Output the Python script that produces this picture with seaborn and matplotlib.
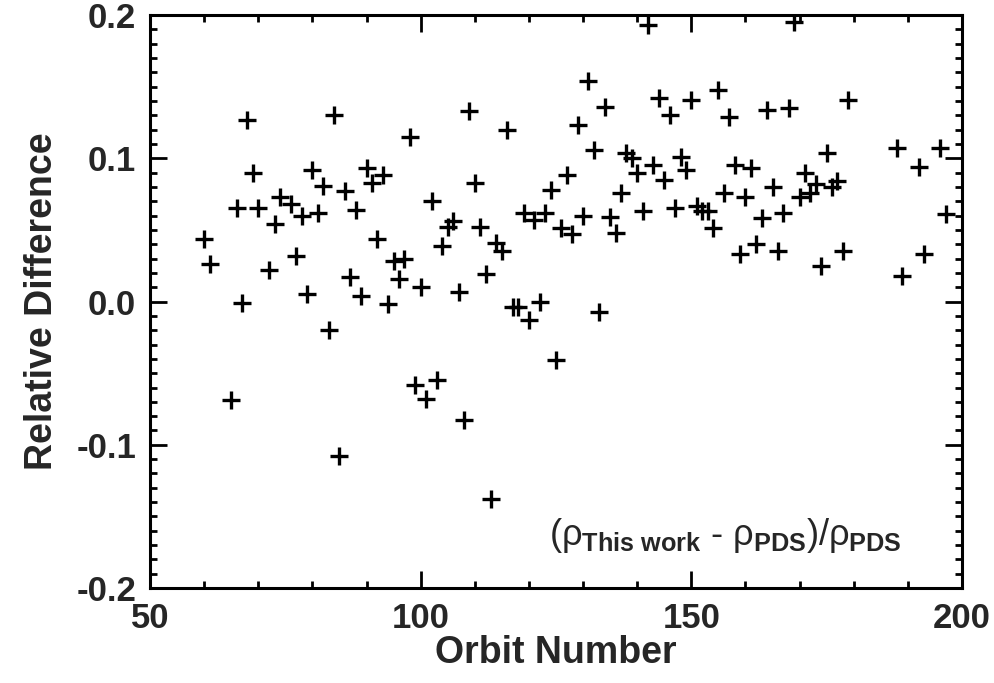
import numpy as np
import pandas as pd
import matplotlib
matplotlib.use('Agg')
import matplotlib.pyplot as plt
from matplotlib.ticker import MultipleLocator, FormatStrFormatter
import seaborn as sns

# orbit numbers and relative density difference
orbit = [60, 61, 65, 66, 67, 68, 69, 70, 72, 73, 74, 76, 77, 78, 79, 80,
         81, 82, 83, 84, 85, 86, 87, 88, 89, 90, 91, 92, 93, 94, 95, 96,
         97, 98, 99, 100, 101, 102, 103, 104, 105, 106, 107, 108, 109, 110,
         111, 112, 113, 114, 115, 116, 117, 118, 119, 120, 121, 122, 123,
         124, 125, 126, 127, 128, 129, 130, 131, 132, 133, 134, 135, 136,
         137, 138, 139, 140, 141, 142, 143, 144, 145, 146, 147, 148, 149,
         150, 151, 152, 153, 154, 155, 156, 157, 158, 159, 160, 161, 162,
         163, 164, 165, 166, 167, 168, 169, 170, 171, 172, 173, 174, 175,
         176, 177, 178, 179, 188, 189, 192, 193, 196, 197]
rel_diff = [0.044, 0.026, -0.069, 0.065, -0.001, 0.127, 0.090, 0.065, 0.022,
            0.054, 0.073, 0.068, 0.032, 0.060, 0.005, 0.092, 0.062, 0.081,
            -0.020, 0.130, -0.108, 0.077, 0.017, 0.064, 0.004, 0.093, 0.083,
            0.044, 0.088, -0.002, 0.028, 0.016, 0.030, 0.115, -0.058, 0.010,
            -0.068, 0.070, -0.055, 0.039, 0.052, 0.056, 0.007, -0.083, 0.133,
            0.083, 0.052, 0.019, -0.138, 0.041, 0.035, 0.120, -0.004, -0.004,
            0.062, -0.013, 0.057, 0.000, 0.062, 0.078, -0.041, 0.051, 0.088,
            0.047, 0.123, 0.060, 0.154, 0.106, -0.007, 0.136, 0.059, 0.048,
            0.076, 0.104, 0.100, 0.090, 0.063, 0.193, 0.095, 0.142, 0.085,
            0.130, 0.065, 0.101, 0.092, 0.141, 0.067, 0.063, 0.063, 0.051,
            0.148, 0.076, 0.129, 0.095, 0.033, 0.073, 0.093, 0.040, 0.058,
            0.134, 0.080, 0.035, 0.062, 0.135, 0.195, 0.073, 0.090, 0.076,
            0.082, 0.025, 0.104, 0.080, 0.084, 0.035, 0.141, 0.107, 0.018,
            0.094, 0.033, 0.107, 0.061]

df = pd.DataFrame({'orbit': orbit, 'diff': rel_diff})

sns.set_style('ticks')
plt.rcParams['font.family'] = ['Liberation Sans', 'DejaVu Sans']
plt.rcParams['axes.unicode_minus'] = False
plt.rcParams['mathtext.fontset'] = 'custom'
plt.rcParams['mathtext.rm'] = 'Liberation Sans:weight=normal'
plt.rcParams['mathtext.it'] = 'Liberation Sans:weight=normal'
plt.rcParams['mathtext.bf'] = 'Liberation Sans:weight=bold'

fig = plt.figure(figsize=(9.95, 6.83), dpi=100)
ax = fig.add_axes([0.1508, 0.139, 0.816, 0.839])

sns.scatterplot(data=df, x='orbit', y='diff', marker='+', s=160,
                color='black', linewidth=2.4, ax=ax, legend=False)

ax.set_xlim(50, 200)
ax.set_ylim(-0.2, 0.2)
ax.xaxis.set_major_locator(MultipleLocator(50))
ax.xaxis.set_minor_locator(MultipleLocator(10))
ax.yaxis.set_major_locator(MultipleLocator(0.1))
ax.yaxis.set_minor_locator(MultipleLocator(0.01))
ax.yaxis.set_major_formatter(FormatStrFormatter('%.1f'))

for sp in ax.spines.values():
    sp.set_linewidth(2.2)
    sp.set_color('black')
ax.tick_params(which='both', direction='in', top=True, right=True,
               width=2.0, color='black', labelsize=25, pad=10)
ax.tick_params(which='major', length=12)
ax.tick_params(which='minor', length=5)
for lbl in ax.get_xticklabels() + ax.get_yticklabels():
    lbl.set_fontweight('bold')

ax.set_xlabel('Orbit Number', fontsize=27, fontweight='bold', labelpad=0)
ax.set_ylabel('Relative Difference', fontsize=27, fontweight='bold', labelpad=12)

# annotation: plain hyphen kept outside mathtext
ax.text(156.2, -0.163,
        r'($\rho_{\mathbf{This\ work}}$ - $\rho_{\mathbf{PDS}}$)/$\rho_{\mathbf{PDS}}$',
        fontsize=26, fontweight='normal', ha='center', va='center')

fig.savefig('out.png', dpi=100)
